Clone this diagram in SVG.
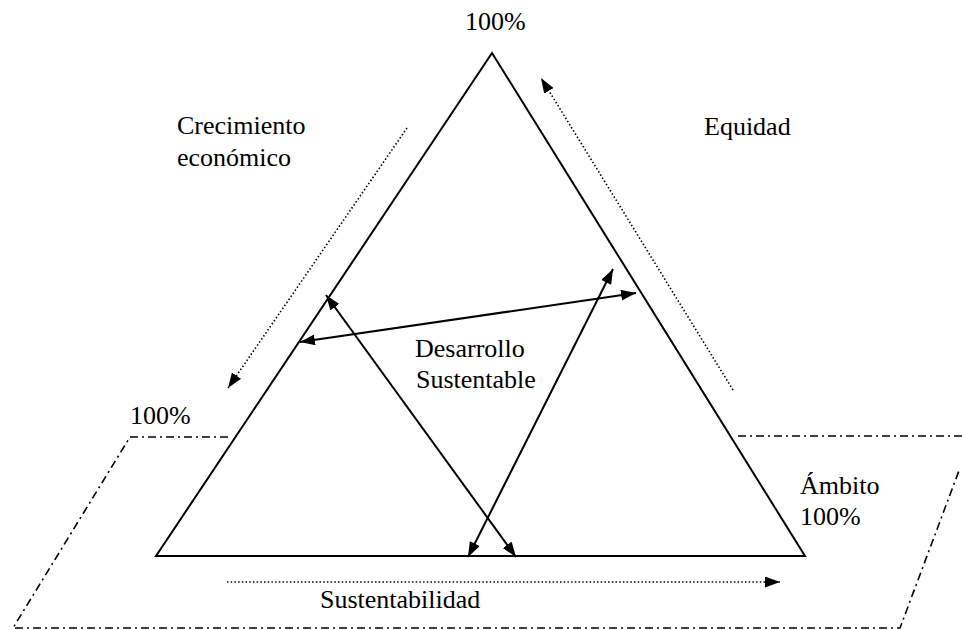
<svg xmlns="http://www.w3.org/2000/svg" width="962" height="630" viewBox="0 0 962 630">
  <style>
    .lbl { font-family: "Liberation Serif", "Times New Roman", serif; font-size: 26px; fill: #000; }
    .edge { fill: none; stroke: #000; stroke-width: 2; }
    .arrow { fill: none; stroke: #000; stroke-width: 2; }
    .dots { fill: none; stroke: #000; stroke-width: 1.6; stroke-dasharray: 1.5 2.2; }
    .dashdot { fill: none; stroke: #000; stroke-width: 1.6; stroke-dasharray: 8 4 2 4; }
  </style>
  <defs>
    <marker id="head" markerUnits="userSpaceOnUse" markerWidth="16" markerHeight="12" refX="15" refY="5.5" orient="auto-start-reverse">
      <path d="M0,0 L15,5.5 L0,11 z" fill="#000"/>
    </marker>
  </defs>

  <rect width="962" height="630" fill="#fff"/>

  <!-- base plane (dash-dot parallelogram) -->
  <g id="plane">
    <path class="dashdot" d="M228,437 H130 L13,628 H900 L960,468"/>
    <path class="dashdot" d="M738,436 H962"/>
  </g>

  <!-- main triangle -->
  <g id="triangle">
    <polygon class="edge" points="492,53 156,556 805,556"/>
  </g>

  <!-- connectors -->
  <g id="connectors">
    <!-- axis direction arrows (dotted) -->
    <line class="dots" x1="407" y1="128" x2="228" y2="388" marker-end="url(#head)"/>
    <line class="dots" x1="733" y1="390" x2="541" y2="78" marker-end="url(#head)"/>
    <line class="dots" x1="227" y1="582" x2="780" y2="582" marker-end="url(#head)"/>
    <!-- double-headed arrows between the sides -->
    <line class="arrow" x1="300" y1="342" x2="636" y2="293" marker-start="url(#head)" marker-end="url(#head)"/>
    <line class="arrow" x1="326" y1="295" x2="516" y2="557" marker-start="url(#head)" marker-end="url(#head)"/>
    <line class="arrow" x1="468" y1="557" x2="613" y2="269" marker-start="url(#head)" marker-end="url(#head)"/>
  </g>

  <!-- labels -->
  <g id="label-top">
    <text class="lbl" x="465" y="30">100%</text>
  </g>
  <g id="label-crecimiento">
    <text class="lbl" x="177" y="134">Crecimiento</text>
    <text class="lbl" x="177" y="166">económico</text>
  </g>
  <g id="label-equidad">
    <text class="lbl" x="704" y="135">Equidad</text>
  </g>
  <g id="label-desarrollo">
    <text class="lbl" x="415" y="357">Desarrollo</text>
    <text class="lbl" x="416" y="388">Sustentable</text>
  </g>
  <g id="label-left">
    <text class="lbl" x="130" y="424">100%</text>
  </g>
  <g id="label-ambito">
    <text class="lbl" x="800" y="494">Ámbito</text>
    <text class="lbl" x="800" y="525">100%</text>
  </g>
  <g id="label-sustentabilidad">
    <text class="lbl" x="320" y="608">Sustentabilidad</text>
  </g>
</svg>
